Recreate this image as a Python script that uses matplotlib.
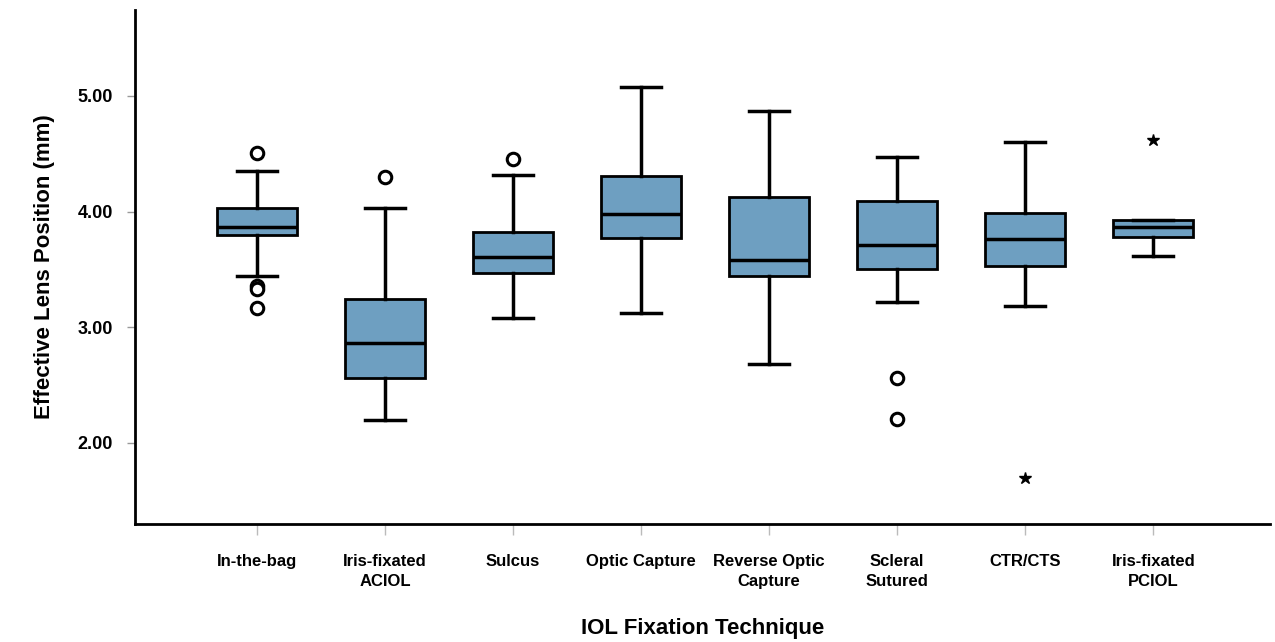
import matplotlib.pyplot as plt

# Boxplot of effective lens position by IOL fixation technique (SPSS style)

labels = ['In-the-bag', 'Iris-fixated\nACIOL', 'Sulcus', 'Optic Capture',
          'Reverse Optic\nCapture', 'Scleral\nSutured', 'CTR/CTS', 'Iris-fixated\nPCIOL']
whislo = [3.44, 2.20, 3.08, 3.12, 2.68, 3.22, 3.18, 3.62]
q1 = [3.80, 2.56, 3.47, 3.77, 3.44, 3.50, 3.53, 3.78]
med = [3.87, 2.86, 3.61, 3.98, 3.58, 3.71, 3.76, 3.87]
q3 = [4.03, 3.24, 3.82, 4.31, 4.13, 4.09, 3.99, 3.93]
whishi = [4.35, 4.03, 4.32, 5.08, 4.87, 4.47, 4.60, 3.93]
outliers = [[4.51, 3.36, 3.33, 3.17], [4.30], [4.45], [], [], [2.56, 2.21], [], []]
extremes = [[], [], [], [], [], [], [1.70], [4.62]]

box_color = '#6e9fc1'
font = ['Liberation Sans', 'DejaVu Sans']

stats = []
for i in range(len(labels)):
    stats.append(dict(whislo=whislo[i], q1=q1[i], med=med[i], q3=q3[i],
                      whishi=whishi[i], fliers=outliers[i]))

fig = plt.figure(figsize=(12.75, 6.42), dpi=100)
ax = fig.add_axes([0.106, 0.184, 0.89, 0.80])

pos = list(range(len(labels)))
ax.bxp(stats, positions=pos, widths=0.625, capwidths=0.31, patch_artist=True,
       boxprops=dict(facecolor=box_color, edgecolor='black', linewidth=2),
       medianprops=dict(color='black', linewidth=2.5),
       whiskerprops=dict(color='black', linewidth=2.5),
       capprops=dict(color='black', linewidth=2.5),
       flierprops=dict(marker='o', markersize=9, markerfacecolor='white',
                       markeredgecolor='black', markeredgewidth=2.2, linestyle='none'))

for i, ext in enumerate(extremes):
    if ext:
        ax.plot([pos[i]] * len(ext), ext, linestyle='none', marker='*',
                markersize=9, color='black')

ax.set_ylim(1.30, 5.74)
ax.set_xlim(-0.95, 7.91)
ax.set_yticks([2, 3, 4, 5])
ax.set_yticklabels(['2.00', '3.00', '4.00', '5.00'], fontweight='bold',
                   fontsize=13, family=font)
ax.set_xticks(pos)
ax.set_xticklabels(labels, fontweight='bold', fontsize=12, family=font,
                   linespacing=1.4, va='top')
ax.tick_params(axis='y', length=6, width=1, color='#999999', pad=10)
ax.tick_params(axis='x', length=8, width=1, color='#bbbbbb', pad=14)

for s in ['top', 'right']:
    ax.spines[s].set_visible(False)
for s in ['left', 'bottom']:
    ax.spines[s].set_linewidth(2)
    ax.spines[s].set_color('black')

ax.set_ylabel('Effective Lens Position (mm)', fontweight='bold', fontsize=16,
              family=font, labelpad=16)
ax.set_xlabel('IOL Fixation Technique', fontweight='bold', fontsize=16,
              family=font, labelpad=21)

fig.savefig('out.png', dpi=100)
